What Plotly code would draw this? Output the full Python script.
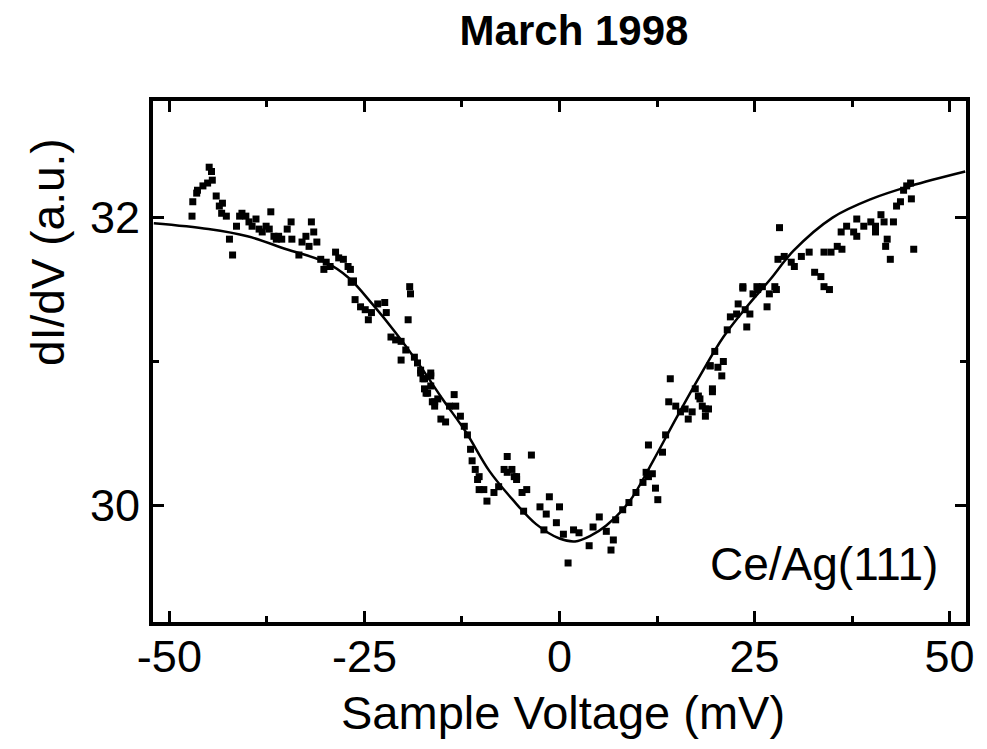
import plotly.graph_objects as go

# Fit curve
fit_v = [-52, -45, -40, -35, -30, -27, -24, -21, -18, -15, -12, -9, -6, -3, 0, 2, 4, 6, 9, 12, 15, 18, 21, 24, 27, 30, 35, 40, 45, 52]
fit_g = [31.96, 31.92, 31.87, 31.78, 31.69, 31.58, 31.40, 31.20, 30.98, 30.74, 30.51, 30.24, 30.04, 29.87, 29.77, 29.75, 29.79, 29.86, 30.03, 30.31, 30.61, 30.90, 31.17, 31.38, 31.57, 31.77, 32.00, 32.13, 32.22, 32.32]

data_v = [-44.9, -44.6, -44.5, -45.1, -45.7, -46.4, -46.5, -47.0, -47.1, -44.0, -43.6, -43.2, -43.3, -42.7, -42.3, -41.9,
          -41.4, -41.0, -40.7, -40.2, -39.8, -39.4, -38.9, -38.5, -38.1, -37.6, -37.0, -37.2, -36.6, -36.3, -36.0, -35.6,
          -34.9, -34.4, -34.3, -33.4, -33.0, -32.5, -32.1, -31.8, -31.5, -31.1, -30.6, -30.2, -29.9, -29.4, -28.7, -28.3,
          -27.7, -27.1, -26.8, -26.4, -19.2, -19.1, -26.7, -26.2, -25.5, -24.9, -24.5, -24.1, -23.3, -22.4, -22.2, -19.4,
          -21.6, -21.0, -20.3, -20.3, -19.7, -18.6, -18.2, -17.8, -17.5, -17.3, -16.9, -16.3, -16.5, -16.0,
          -17.8, -17.3, -16.5, -17.1, -16.5, -16.0, -15.6, -15.2, -14.6, -14.1, -13.5, -13.3, -12.7, -12.2, -11.8, -11.4,
          -11.2, -10.8, -10.3, -6.7, -7.1, -6.1, -5.5, -3.6,
          14.2, 14.0, 11.4, 13.2, 13.6, 14.9, 15.5, 16.1, 16.5, 17.0, 17.8, 18.3, 18.7, 19.1, 19.6, 19.3, 11.1, 11.9,
          -10.5, -9.7, -10.3, -9.3, -8.4, -7.8, -6.7, -5.8, -5.5, -4.8, -4.2, -4.6, -2.5, -1.7, -1.3, 0.0, -0.4, -2.0,
          0.5, 1.8, 2.5, 1.1, 3.8, 4.3, 5.1, 6.0, 6.9, 6.6, 7.2, 8.1, 8.9, 9.8, 10.7, 11.4, 12.3, 12.6,
          17.4, 18.0, 18.7, 19.6, 19.3, 20.3, 20.8, 21.0, 19.9, 21.5, 21.9, 22.7, 24.0, 22.9, 23.8, 24.4, 23.5, 24.8,
          25.4, 26.0, 26.6, 26.9, 27.8, 33.9, 34.6,
          28.2, 23.5, 25.3, 27.6, 28.0, 28.8, 29.7, 30.1, 31.0, 32.0, 32.7, 33.5, 33.9, 34.8, 35.6, 36.1, 36.2, 36.8,
          37.7, 38.1, 38.1, 39.0, 39.9, 40.5, 40.5, 41.2, 41.6, 41.8, 42.0, 42.4, 42.8, 43.2, 43.7, 44.1, 44.5, 45.0,
          45.1, 45.4]
data_g = [32.35, 32.32, 32.26, 32.24, 32.22, 32.19, 32.17, 32.11, 32.01, 32.15, 32.08, 32.10, 32.03, 32.01, 31.85, 31.74,
          31.94, 32.01, 32.03, 32.01, 31.97, 31.94, 31.99, 31.92, 31.90, 31.94, 32.04, 31.92, 31.87, 31.85, 31.87, 31.85,
          31.92, 31.97, 31.85, 31.74, 31.83, 31.87, 31.80, 31.97, 31.90, 31.83, 31.71, 31.64, 31.69, 31.66, 31.76, 31.72,
          31.71, 31.66, 31.64, 31.56, 31.52, 31.47, 31.55, 31.43, 31.38, 31.36, 31.29, 31.34, 31.40, 31.41, 31.34, 31.29,
          31.17, 31.15, 31.14, 31.01, 31.08, 31.03, 30.99, 30.92, 30.88, 30.81, 30.78, 30.72, 30.90, 30.69,
          30.94, 30.88, 30.92, 30.78, 30.83, 30.72, 30.74, 30.60, 30.58, 30.69, 30.77, 30.69, 30.62, 30.55, 30.49, 30.39,
          30.31, 30.25, 30.20, 30.34, 30.25, 30.25, 30.20, 30.35,
          30.88, 30.72, 30.42, 30.37, 30.49, 30.69, 30.65, 30.67, 30.60, 30.65, 30.76, 30.69, 30.62, 30.67, 30.81, 30.97, 30.23, 30.22,
          30.18, 30.11, 30.11, 30.03, 30.09, 30.13, 30.23, 30.20, 30.18, 30.09, 30.11, 29.96, 29.99, 29.94, 30.06, 29.99, 29.88, 29.83,
          29.80, 29.83, 29.81, 29.60, 29.72, 29.85, 29.92, 29.82, 29.76, 29.69, 29.90, 29.97, 30.02, 30.09, 30.16, 30.20, 30.12, 30.04,
          30.81, 30.74, 30.67, 30.79, 30.97, 30.96, 30.90, 31.00, 31.07, 31.22, 31.31, 31.33, 31.24, 31.40, 31.36, 31.33, 31.51, 31.47,
          31.50, 31.52, 31.38, 31.47, 31.50, 31.52, 31.50,
          31.93, 31.52, 31.52, 31.52, 31.71, 31.73, 31.69, 31.66, 31.73, 31.76, 31.62, 31.59, 31.76, 31.76, 31.80, 31.90, 31.78, 31.94,
          31.90, 31.99, 31.87, 31.94, 31.97, 31.94, 31.90, 32.02, 31.97, 31.80, 31.85, 31.71, 31.97, 32.08, 32.11, 32.19, 32.22, 32.24,
          32.13, 31.78]

x_ticks = [-50, -25, 0, 25, 50]
x_tick_text = ["-50", "-25", "0", "25", "50"]
y_ticks = [30, 32]
y_tick_text = ["30", "32"]

FONT = "Liberation Sans, Arial, sans-serif"
W, H = 987, 749
L, R, T, B = 153, 973, 101, 622  # plot-area pixel edges


def px_to_paper(px, py):
    return (px - L) / (R - L), (B - py) / (B - T)


fig = go.Figure()
fig.add_trace(go.Scatter(x=data_v, y=data_g, mode="markers",
                         marker=dict(symbol="square", size=7, color="black", line=dict(width=0)),
                         showlegend=False))
fig.add_trace(go.Scatter(x=fit_v, y=fit_g, mode="lines", line=dict(color="black", width=2.5, shape="spline"),
                         showlegend=False))

fig.add_annotation(x=33.9, y=29.59, text="Ce/Ag(111)", showarrow=False,
                   font=dict(family=FONT, size=46, color="black"), xanchor="center", yanchor="middle")

xt_x, xt_y = px_to_paper(567, 712)
fig.add_annotation(x=xt_x, y=xt_y, xref="paper", yref="paper", yanchor="middle", xanchor="center",
                   text="Sample Voltage (mV)", showarrow=False,
                   font=dict(family=FONT, size=47, color="black"))
yt_x, yt_y = px_to_paper(47, 252)
fig.add_annotation(x=yt_x, y=yt_y, xref="paper", yref="paper", yanchor="middle", xanchor="center",
                   text="dI/dV (a.u.)", showarrow=False, textangle=-90,
                   font=dict(family=FONT, size=46, color="black"))

axis_common = dict(showline=True, linewidth=4, linecolor="black", mirror="ticks", ticks="inside",
                   tickwidth=3, tickcolor="black", showgrid=False, zeroline=False,
                   tickfont=dict(family=FONT, size=45, color="black"))

fig.update_xaxes(range=[-52.1, 52.1], tickvals=x_ticks, ticktext=x_tick_text, ticklen=11,
                 ticklabelstandoff=-8,
                 minor=dict(ticks="inside", dtick=12.5, tick0=0, ticklen=6, tickwidth=3, tickcolor="black"),
                 **axis_common)
fig.update_yaxes(range=[29.19, 32.81], tickvals=y_ticks, ticktext=y_tick_text, ticklen=11,
                 minor=dict(ticks="inside", dtick=1, tick0=30, ticklen=6, tickwidth=3, tickcolor="black"),
                 **axis_common)

fig.update_layout(
    width=W, height=H,
    margin=dict(l=L, r=W - R, t=T, b=H - B),
    paper_bgcolor="white", plot_bgcolor="white",
    title=dict(text="<b>March 1998</b>", x=574 / W, xanchor="center", xref="container",
               y=1 - 30 / H, yanchor="middle", yref="container",
               font=dict(family=FONT, size=42, color="black")),
)

fig.write_html("out.html")
